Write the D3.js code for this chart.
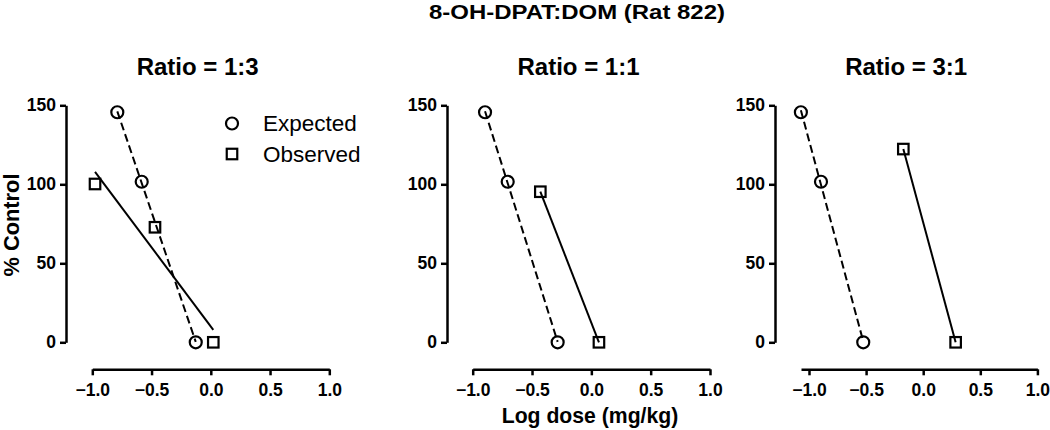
<!DOCTYPE html>
<html><head><meta charset="utf-8">
<script src="https://cdn.jsdelivr.net/npm/d3@7/dist/d3.min.js"></script>
<style>
html,body{margin:0;padding:0;background:#fff;}
text{font-family:"Liberation Sans",Arial,sans-serif;fill:#000;}
</style></head>
<body>
<svg id="chart" width="1050" height="430"></svg>
<script>
// ---- data ----
const chartTitle = "8-OH-DPAT:DOM (Rat 822)";
const panelTitles = ["Ratio = 1:3", "Ratio = 1:1", "Ratio = 3:1"];
const expectedX = [[-0.789, -0.583, -0.127], [-0.896, -0.705, -0.284], [-1.071, -0.895, -0.525]];
const expectedY = [[145.6, 101.6, 0], [145.6, 101.6, 0], [145.6, 101.6, 0]];
const observedX = [[-0.977, -0.471, 0.021], [-0.430, 0.064], [-0.174, 0.284]];
const observedY = [[100.2, 72.8, 0], [95.3, 0], [122.3, 0]];
const xMin = [-1.0, -1.0, -1.07];
const xMax = [1.0, 1.0, 1.0];
const xTicks = [-1.0, -0.5, 0.0, 0.5, 1.0];
const yTicks = [0, 50, 100, 150];
const legendLabels = ["Expected", "Observed"];
const xLabel = "Log dose (mg/kg)";
const yLabel = "% Control";

// ---- layout ----
const svg = d3.select("#chart");
const yAxisX = [66, 447, 775];
const xStart = [92.3, 472.7, 801];
const xEnd = [329.3, 710, 1037.4];
const yTop = 105.3, yBot = 342.3, xAxisY = 369.3;
const FONT = "'Liberation Sans',Arial,sans-serif";

const y = d3.scaleLinear().domain([0, 150]).range([yBot, yTop]);

function fit(xs, ys) {
  const n = xs.length, mx = d3.mean(xs), my = d3.mean(ys);
  let sxy = 0, sxx = 0;
  for (let i = 0; i < n; i++) { sxy += (xs[i]-mx)*(ys[i]-my); sxx += (xs[i]-mx)**2; }
  const b = sxy/sxx, a = my - b*mx;
  const x0 = d3.min(xs), x1 = d3.max(xs);
  return [[x0, a + b*x0], [x1, a + b*x1]];
}

svg.append("text").attr("x", 577).attr("y", 19).attr("text-anchor", "middle")
  .attr("font-size", 21).attr("font-weight", "bold")
  .attr("textLength", 296).attr("lengthAdjust", "spacingAndGlyphs").text(chartTitle);

panelTitles.forEach((t, i) => {
  const x = d3.scaleLinear().domain([xMin[i], xMax[i]]).range([xStart[i], xEnd[i]]);
  const g = svg.append("g");

  g.append("text").attr("x", (yAxisX[i] + xEnd[i]) / 2).attr("y", 75)
    .attr("text-anchor", "middle").attr("font-size", 24).attr("font-weight", "bold").text(t);

  const ya = g.append("g").attr("transform", `translate(${yAxisX[i]},0)`)
    .call(d3.axisLeft(y).tickValues(yTicks).tickSize(6).tickSizeOuter(0).tickPadding(4));
  ya.select(".domain").attr("stroke-width", 2.5);
  ya.selectAll(".tick line").attr("stroke-width", 2.5);
  ya.selectAll(".tick text").attr("font-size", 17.5).attr("font-weight", "bold")
    .attr("font-family", FONT).attr("fill", "#000");

  const xa = g.append("g").attr("transform", `translate(0,${xAxisY})`)
    .call(d3.axisBottom(x).tickValues(xTicks).tickFormat(d3.format(".1f")).tickSize(6).tickSizeOuter(0).tickPadding(8));
  xa.select(".domain").attr("stroke-width", 2.5);
  xa.selectAll(".tick line").attr("stroke-width", 2.5);
  xa.selectAll(".tick text").attr("font-size", 17.5).attr("font-weight", "bold")
    .attr("font-family", FONT).attr("fill", "#000");

  const line = d3.line().x(d => x(d[0])).y(d => y(d[1]));
  g.append("path").attr("d", line(fit(expectedX[i], expectedY[i])))
    .attr("fill", "none").attr("stroke", "#000").attr("stroke-width", 2).attr("stroke-dasharray", "8,4");
  g.append("path").attr("d", line(fit(observedX[i], observedY[i])))
    .attr("fill", "none").attr("stroke", "#000").attr("stroke-width", 2);

  g.selectAll("circle.exp").data(expectedX[i].map((v, k) => [v, expectedY[i][k]])).join("circle")
    .attr("class", "exp").attr("cx", d => x(d[0])).attr("cy", d => y(d[1])).attr("r", 6)
    .attr("fill", "none").attr("stroke", "#000").attr("stroke-width", 2.2);
  g.selectAll("rect.obs").data(observedX[i].map((v, k) => [v, observedY[i][k]])).join("rect")
    .attr("class", "obs").attr("x", d => x(d[0]) - 5.25).attr("y", d => y(d[1]) - 5.25)
    .attr("width", 10.5).attr("height", 10.5)
    .attr("fill", "none").attr("stroke", "#000").attr("stroke-width", 2.2);

  if (i === 0) {
    const lg = g.append("g");
    lg.append("circle").attr("cx", 232).attr("cy", 123.5).attr("r", 6)
      .attr("fill", "none").attr("stroke", "#000").attr("stroke-width", 2.2);
    lg.append("rect").attr("x", 226.75).attr("y", 148.75).attr("width", 10.5).attr("height", 10.5)
      .attr("fill", "none").attr("stroke", "#000").attr("stroke-width", 2.2);
    lg.append("text").attr("x", 263).attr("y", 131).attr("font-size", 22.5).text(legendLabels[0]);
    lg.append("text").attr("x", 263).attr("y", 162).attr("font-size", 22.5).text(legendLabels[1]);
  }
});

svg.append("text").attr("x", 590).attr("y", 423).attr("text-anchor", "middle")
  .attr("font-size", 21.2).attr("font-weight", "bold").text(xLabel);
svg.append("text").attr("transform", "translate(19,225) rotate(-90)").attr("text-anchor", "middle")
  .attr("font-size", 21.8).attr("font-weight", "bold").text(yLabel);
</script>
</body></html>
